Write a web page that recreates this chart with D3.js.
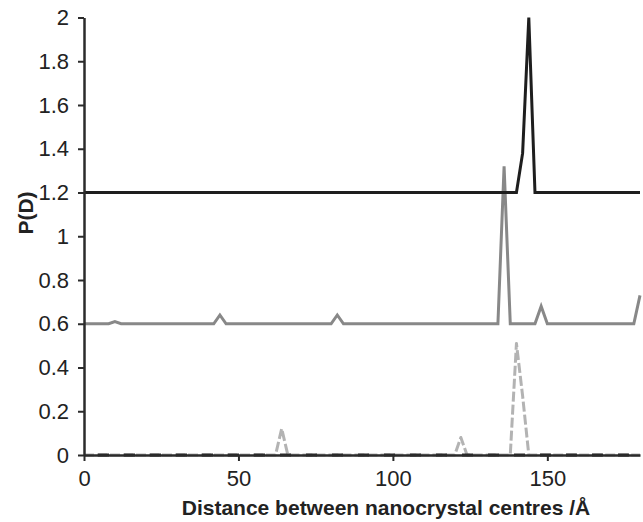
<!DOCTYPE html>
<html>
<head>
<meta charset="utf-8">
<script src="https://cdn.jsdelivr.net/npm/d3@7"></script>
<style>
  html, body { margin: 0; padding: 0; background: #fff; }
  svg { display: block; }
</style>
</head>
<body>
<svg id="chart" width="643" height="522"></svg>
<script>
// Data (distance in Å, P(D) with vertical offsets as in the figure)
const xTicks = [0, 50, 100, 150];
const yTicks = [0, 0.2, 0.4, 0.6, 0.8, 1, 1.2, 1.4, 1.6, 1.8, 2];

const blackX = [0, 140, 142, 144, 146, 180];
const blackY = [1.2, 1.2, 1.38, 2.0, 1.2, 1.2];

const greyX = [0, 8, 10, 12, 42, 44, 46, 80, 82, 84, 134, 136, 138, 146, 148, 150, 178, 180];
const greyY = [0.6, 0.6, 0.61, 0.6, 0.6, 0.64, 0.6, 0.6, 0.64, 0.6, 0.6, 1.32, 0.6, 0.6, 0.68, 0.6, 0.6, 0.73];

const lightDashX = [0, 62, 64, 66, 120, 122, 124, 138, 140, 142, 144, 180];
const lightDashY = [0, 0, 0.12, 0, 0, 0.08, 0, 0, 0.51, 0.27, 0, 0];

const blackDashX = [0, 180];
const blackDashY = [0, 0];

const xLabel = "Distance between nanocrystal centres /Å";
const yLabel = "P(D)";

const svg = d3.select("#chart");
const x = d3.scaleLinear().domain([0, 180]).range([84, 640]);
const y = d3.scaleLinear().domain([0, 2]).range([455, 17.5]);

const line = d3.line().x(d => x(d[0])).y(d => y(d[1]));
const zip = (a, b) => a.map((v, i) => [v, b[i]]);

const FONT = "'Liberation Sans', Arial, sans-serif";

// series
svg.append("path").datum(zip(lightDashX, lightDashY))
  .attr("d", line).attr("fill", "none")
  .attr("stroke", "#b3b3b3").attr("stroke-width", 3)
  .attr("stroke-dasharray", "10,3").attr("stroke-linejoin", "round");

svg.append("path").datum(zip(blackDashX, blackDashY))
  .attr("d", line).attr("fill", "none")
  .attr("stroke", "#2a2a2a").attr("stroke-width", 3)
  .attr("stroke-dasharray", "11,15").attr("stroke-dashoffset", -14);

svg.append("path").datum(zip(greyX, greyY))
  .attr("d", line).attr("fill", "none")
  .attr("stroke", "#888888").attr("stroke-width", 3)
  .attr("stroke-linejoin", "miter");

svg.append("path").datum(zip(blackX, blackY))
  .attr("d", line).attr("fill", "none")
  .attr("stroke", "#1e1e1e").attr("stroke-width", 3)
  .attr("stroke-linejoin", "miter");

// axes
const yAxis = svg.append("g").attr("transform", `translate(${x(0)},0)`)
  .call(d3.axisLeft(y).tickValues(yTicks).tickSize(6).tickSizeOuter(0).tickPadding(9)
    .tickFormat(d => d3.format("~g")(d)));
const xAxis = svg.append("g").attr("transform", `translate(0,${y(0)})`)
  .call(d3.axisBottom(x).tickValues(xTicks).tickSize(6).tickSizeOuter(0).tickPadding(9));

[yAxis, xAxis].forEach(g => {
  g.select(".domain").attr("stroke", "#2b2b2b").attr("stroke-width", 2.5);
  g.selectAll(".tick line").attr("stroke", "#2b2b2b").attr("stroke-width", 2);
  g.selectAll(".tick text").attr("fill", "#222").attr("font-size", 22).attr("font-family", FONT);
});

svg.append("text").attr("x", 386).attr("y", 515)
  .attr("text-anchor", "middle").attr("font-family", FONT)
  .attr("font-weight", "bold").attr("font-size", 21).attr("fill", "#222")
  .text(xLabel);

svg.append("text").attr("transform", "translate(33,213) rotate(-90)")
  .attr("text-anchor", "middle").attr("font-family", FONT)
  .attr("font-weight", "bold").attr("font-size", 21).attr("fill", "#222")
  .text(yLabel);
</script>
</body>
</html>
